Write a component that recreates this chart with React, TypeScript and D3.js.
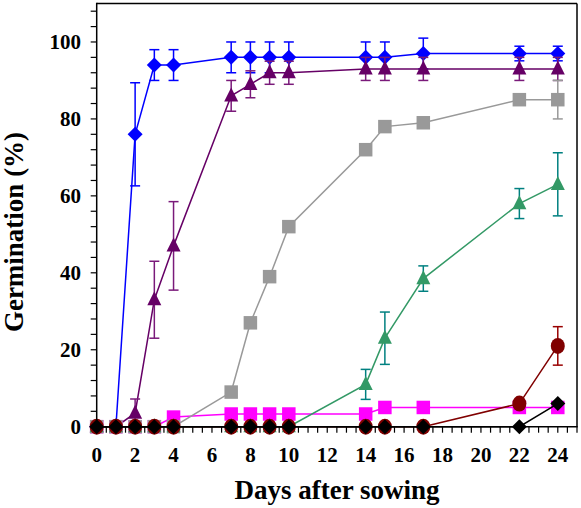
import React from "react";
import * as d3 from "d3";

const days = [0, 1, 2, 3, 4, 7, 8, 9, 10, 14, 15, 17, 22, 24];

const blueVals = [0, 0, 76, 94, 94, 96, 96, 96, 96, 96, 96, 97, 97, 97];
const blueErr = [0, 0, 13.4, 4, 4, 4, 4, 4, 4, 4, 4, 4, 1.9, 1.9];

const purpleVals = [0, 0, 3.5, 33, 47, 86, 89, 92, 92, 93, 93, 93, 93, 93];
const purpleErr = [0, 0, 3.7, 10, 11.5, 4, 3.5, 3, 3, 3, 3, 3, 3, 3];

const grayVals = [0, 0, 0, 0, 0, 9, 27, 39, 52, 72, 78, 79, 85, 85];
const grayErr = [0, 0, 0, 0, 0, 0, 0, 0, 0, 0, 0, 0, 0, 5];

const greenVals = [0, 0, 0, 0, 0, 0, 0, 0, 0, 11, 23, 38.5, 58, 63];
const greenErr = [0, 0, 0, 0, 0, 0, 0, 0, 0, 3.9, 6.8, 3.3, 3.9, 8.2];

const magentaVals = [0, 0, 0, 0, 2.5, 3.3, 3.3, 3.3, 3.3, 3.3, 5, 5, 5, 5];
const magentaErr = [0, 0, 0, 0, 0, 0, 0, 0, 0, 0, 0, 0, 0, 0];

const redVals = [0, 0, 0, 0, 0, 0, 0, 0, 0, 0, 0, 0, 6, 21];
const redErr = [0, 0, 0, 0, 0, 0, 0, 0, 0, 0, 0, 0, 0, 5];

const blackVals = [0, 0, 0, 0, 0, 0, 0, 0, 0, 0, 0, 0, 0, 6];
const blackErr = [0, 0, 0, 0, 0, 0, 0, 0, 0, 0, 0, 0, 0, 0];

const xTickLabels = [0, 2, 4, 6, 8, 10, 12, 14, 16, 18, 20, 22, 24];
const yTickLabels = [0, 20, 40, 60, 80, 100];

type Shape = "diamond" | "triangle" | "square" | "circle";
interface Series {
  name: string;
  values: number[];
  errors: number[];
  color: string;
  errColor: string;
  shape: Shape;
}

// draw order: bottom to top
const series: Series[] = [
  { name: "blue", values: blueVals, errors: blueErr, color: "#0000FF", errColor: "#0000FF", shape: "diamond" },
  { name: "purple", values: purpleVals, errors: purpleErr, color: "#660066", errColor: "#7a1a7a", shape: "triangle" },
  { name: "magenta", values: magentaVals, errors: magentaErr, color: "#FF00FF", errColor: "#FF00FF", shape: "square" },
  { name: "gray", values: grayVals, errors: grayErr, color: "#999999", errColor: "#999999", shape: "square" },
  { name: "green", values: greenVals, errors: greenErr, color: "#339966", errColor: "#008080", shape: "triangle" },
  { name: "red", values: redVals, errors: redErr, color: "#800000", errColor: "#990000", shape: "circle" },
  { name: "black", values: blackVals, errors: blackErr, color: "#000000", errColor: "#000000", shape: "diamond" },
];

const W = 581;
const H = 508;
const left = 96.7;
const right = 577;
const top = 3.5;
const bottom = 426.7;

const x = d3.scaleLinear().domain([0, 25]).range([left, right]);
const y = d3.scaleLinear().domain([0, 110]).range([bottom, top]);

const font = "'Liberation Serif', 'Times New Roman', serif";

function Marker({ shape, cx, cy, color }: { shape: Shape; cx: number; cy: number; color: string }) {
  if (shape === "diamond") {
    const r = 7.5;
    return <path d={`M${cx},${cy - r}L${cx + r},${cy}L${cx},${cy + r}L${cx - r},${cy}Z`} fill={color} />;
  }
  if (shape === "triangle") {
    const h = 14;
    const w = 14;
    return (
      <path
        d={`M${cx},${cy - h * 0.6}L${cx + w / 2},${cy + h * 0.4}L${cx - w / 2},${cy + h * 0.4}Z`}
        fill={color}
      />
    );
  }
  if (shape === "square") {
    const s = 13.5;
    return <rect x={cx - s / 2} y={cy - s / 2} width={s} height={s} fill={color} />;
  }
  return <ellipse cx={cx} cy={cy} rx={7} ry={8} fill={color} />;
}

export default function App() {
  const line = d3
    .line<number>()
    .x((_, i) => x(days[i]))
    .y((v) => y(v));

  const xMinor = d3.range(0, 25.001, 0.5);
  const yMinor = d3.range(0, 110, 4);

  return (
    <div style={{ position: "absolute", left: 0, top: 0 }}>
      <svg width={W} height={H} style={{ display: "block", background: "#fff" }}>
        {/* series */}
        {series.map((s) => (
          <g key={s.name}>
            <path d={line(s.values) || ""} fill="none" stroke={s.color} strokeWidth={1.5} />
            {s.values.map((v, i) =>
              s.errors[i] > 0 ? (
                <g key={i} stroke={s.errColor} strokeWidth={1.5}>
                  <line x1={x(days[i])} x2={x(days[i])} y1={y(v - s.errors[i])} y2={y(v + s.errors[i])} />
                  <line x1={x(days[i]) - 5} x2={x(days[i]) + 5} y1={y(v - s.errors[i])} y2={y(v - s.errors[i])} />
                  <line x1={x(days[i]) - 5} x2={x(days[i]) + 5} y1={y(v + s.errors[i])} y2={y(v + s.errors[i])} />
                </g>
              ) : null
            )}
            {s.values.map((v, i) => (
              <Marker key={"m" + i} shape={s.shape} cx={x(days[i])} cy={y(v)} color={s.color} />
            ))}
          </g>
        ))}

        {/* frame */}
        <line x1={left} x2={right} y1={top} y2={top} stroke="#000" strokeWidth={1.5} />
        <line x1={right} x2={right} y1={top} y2={bottom} stroke="#000" strokeWidth={1.5} />
        <line x1={left} x2={left} y1={top - 0.75} y2={bottom} stroke="#000" strokeWidth={1.5} />
        <line x1={left - 0.75} x2={right + 0.75} y1={bottom} y2={bottom} stroke="#000" strokeWidth={1.5} />

        {/* x ticks */}
        {xMinor.map((t) => (
          <line key={"xt" + t} x1={x(t)} x2={x(t)} y1={bottom} y2={bottom + 6} stroke="#000" strokeWidth={1.2} />
        ))}
        {xTickLabels.map((t) => (
          <text
            key={"xl" + t}
            x={x(t)}
            y={461.5}
            textAnchor="middle"
            fontFamily={font}
            fontWeight="bold"
            fontSize={21}
            fill="#000"
          >
            {t}
          </text>
        ))}

        {/* y ticks */}
        {yMinor.map((t) => (
          <line key={"yt" + t} x1={left - 6} x2={left} y1={y(t)} y2={y(t)} stroke="#000" strokeWidth={1.2} />
        ))}
        {yTickLabels.map((t) => (
          <text
            key={"yl" + t}
            x={81}
            y={y(t)}
            dy="0.35em"
            textAnchor="end"
            fontFamily={font}
            fontWeight="bold"
            fontSize={21}
            fill="#000"
          >
            {t}
          </text>
        ))}

        {/* axis titles */}
        <text
          x={337}
          y={499}
          textAnchor="middle"
          fontFamily={font}
          fontWeight="bold"
          fontSize={27}
          fill="#000"
        >
          Days after sowing
        </text>
        <text
          transform={`translate(23,232) rotate(-90)`}
          textAnchor="middle"
          fontFamily={font}
          fontWeight="bold"
          fontSize={27}
          fill="#000"
        >
          Germination (%)
        </text>
      </svg>
    </div>
  );
}
